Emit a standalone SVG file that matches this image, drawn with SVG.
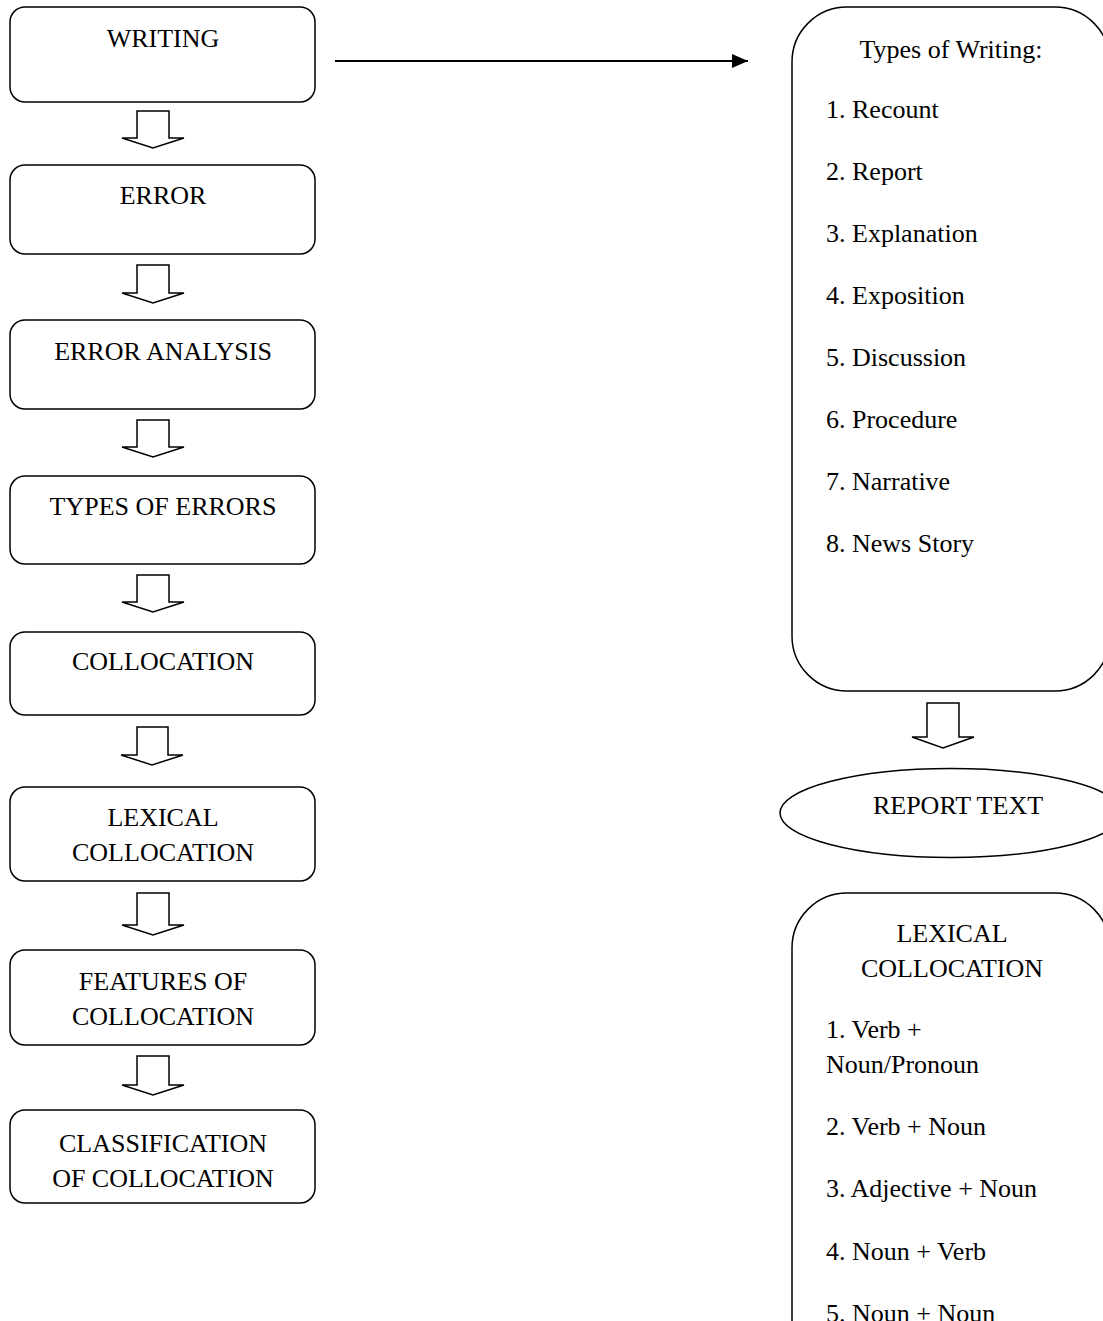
<svg xmlns="http://www.w3.org/2000/svg" width="1103" height="1321" viewBox="0 0 1103 1321">
<style>
.box{fill:#fff;stroke:#000;stroke-width:1.5}
.harrow{fill:#fff;stroke:#000;stroke-width:1.5;stroke-linejoin:miter}
text{font-family:"Liberation Serif","Times New Roman",serif;font-size:26px;fill:#000}
.c{text-anchor:middle}
</style>
<defs>
<marker id="ah" viewBox="0 0 16 14" refX="16" refY="7" markerWidth="16" markerHeight="14" markerUnits="userSpaceOnUse" orient="auto">
<path d="M0,0 L16,7 L0,14 Z" fill="#000"/>
</marker>
</defs>
<g id="connectors">
<line x1="335" y1="61" x2="748" y2="61" stroke="#000" stroke-width="2" marker-end="url(#ah)"/>
<path class="harrow" d="M137,111 V138 H122 L153,148 L184,138 H169 V111 Z"/>
<path class="harrow" d="M137,265 V293 H122 L153,303 L184,293 H169 V265 Z"/>
<path class="harrow" d="M137,420 V447 H122 L153,457 L184,447 H169 V420 Z"/>
<path class="harrow" d="M137,575 V602 H122 L153,612 L184,602 H169 V575 Z"/>
<path class="harrow" d="M137,727 V755 H121 L152,765 L183,755 H168 V727 Z"/>
<path class="harrow" d="M137,893 V925 H122 L153,935 L184,925 H169 V893 Z"/>
<path class="harrow" d="M137,1056 V1085 H122 L153,1095 L184,1085 H169 V1056 Z"/>
<path class="harrow" d="M927,703 V737 H912 L943,748 L974,737 H959 V703 Z"/>
</g>
<g id="writing">
<rect class="box" x="10" y="7" width="305" height="95" rx="15"/>
<text class="c" x="163" y="47">WRITING</text>
</g>
<g id="error">
<rect class="box" x="10" y="165" width="305" height="89" rx="15"/>
<text class="c" x="163" y="204">ERROR</text>
</g>
<g id="error-analysis">
<rect class="box" x="10" y="320" width="305" height="89" rx="15"/>
<text class="c" x="163" y="360">ERROR ANALYSIS</text>
</g>
<g id="types-of-errors">
<rect class="box" x="10" y="476" width="305" height="88" rx="15"/>
<text class="c" x="163" y="515">TYPES OF ERRORS</text>
</g>
<g id="collocation">
<rect class="box" x="10" y="632" width="305" height="83" rx="15"/>
<text class="c" x="163" y="670">COLLOCATION</text>
</g>
<g id="lexical-collocation">
<rect class="box" x="10" y="787" width="305" height="94" rx="15"/>
<text class="c" x="163" y="826">LEXICAL</text>
<text class="c" x="163" y="861">COLLOCATION</text>
</g>
<g id="features-of-collocation">
<rect class="box" x="10" y="950" width="305" height="95" rx="15"/>
<text class="c" x="163" y="990">FEATURES OF</text>
<text class="c" x="163" y="1025">COLLOCATION</text>
</g>
<g id="classification-of-collocation">
<rect class="box" x="10" y="1110" width="305" height="93" rx="15"/>
<text class="c" x="163" y="1152">CLASSIFICATION</text>
<text class="c" x="163" y="1187">OF COLLOCATION</text>
</g>
<g id="types-of-writing">
<rect class="box" x="792" y="7" width="318" height="684" rx="55"/>
<text class="c" x="951" y="58">Types of Writing:</text>
<text x="826" y="118">1. Recount</text>
<text x="826" y="180">2. Report</text>
<text x="826" y="242">3. Explanation</text>
<text x="826" y="304">4. Exposition</text>
<text x="826" y="366">5. Discussion</text>
<text x="826" y="428">6. Procedure</text>
<text x="826" y="490">7. Narrative</text>
<text x="826" y="552">8. News Story</text>
</g>
<g id="report-text">
<ellipse class="box" cx="951" cy="813" rx="171" ry="44.5"/>
<text class="c" x="958" y="814">REPORT TEXT</text>
</g>
<g id="lexical-collocation-types">
<rect class="box" x="792" y="893" width="318" height="500" rx="55"/>
<text class="c" x="952" y="942">LEXICAL</text>
<text class="c" x="952" y="977">COLLOCATION</text>
<text x="826" y="1038">1. Verb +</text>
<text x="826" y="1073">Noun/Pronoun</text>
<text x="826" y="1135">2. Verb + Noun</text>
<text x="826" y="1197">3. Adjective + Noun</text>
<text x="826" y="1260">4. Noun + Verb</text>
<text x="826" y="1322">5. Noun + Noun</text>
</g>
</svg>
